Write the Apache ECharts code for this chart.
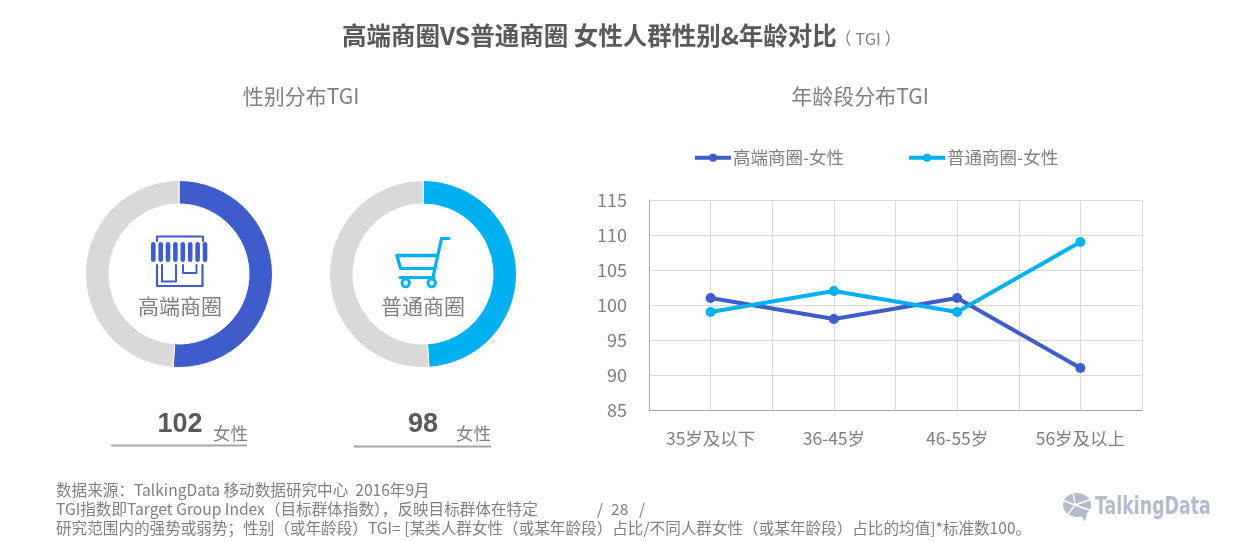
<!DOCTYPE html>
<html><head><meta charset="utf-8">
<style>html,body{margin:0;padding:0;background:#fff}#c{width:1239px;height:542px}</style>
<script src="https://cdn.jsdelivr.net/npm/echarts@6/dist/echarts.min.js"></script>
</head><body><div id="c"></div>
<script>
const ageCategories = ['35岁及以下','36-45岁','46-55岁','56岁及以上'];
const yTicks = {min:85,max:115,interval:5};
const seriesNames = ['高端商圈-女性','普通商圈-女性'];
const premiumAge = [101,98,101,91];
const normalAge = [99,102,99,109];
const premiumTGI = 102;
const normalTGI = 98;
const premiumName = '高端商圈';
const normalName = '普通商圈';
const gender = '女性';
const titleMain = '高端商圈VS普通商圈 女性人群性别&年龄对比';
const titleSub = '（ TGI ）';
const subLeft = '性别分布TGI';
const subRight = '年龄段分布TGI';
const notes = [
 '数据来源：TalkingData 移动数据研究中心  2016年9月',
 'TGI指数即Target Group Index（目标群体指数），反映目标群体在特定',
 '研究范围内的强势或弱势；性别（或年龄段）TGI= [某类人群女性（或某年龄段）占比/不同人群女性（或某年龄段）占比的均值]*标准数100。'
];
const BLUE='#3f5ccb', CYAN='#00b0f0', GRAY='#7f7f7f', RING='#d9d9d9';
const FONT='"Noto Sans CJK SC","Noto Sans",sans-serif';
const txt=(x,y,text,size,fill,extra,el)=>Object.assign({type:'text',x,y,silent:true,style:Object.assign({text,fontSize:size,fill,fontFamily:FONT,textVerticalAlign:'middle',verticalAlign:'middle'},extra||{})},el||{});
const pl=(points,stroke,w)=>({type:'polyline',silent:true,shape:{points},style:{stroke,lineWidth:w,fill:null,lineCap:'round',lineJoin:'round'}});
const ring=(center,val,color)=>({type:'pie',center,radius:[70,93.5],startAngle:90,silent:true,label:{show:false},labelLine:{show:false},
 itemStyle:{borderColor:'#fff',borderWidth:1},
 data:[{value:val,itemStyle:{color}},{value:200-val,itemStyle:{color:RING}}],animation:false});
const awning=[153.3,160.7,168,175.4,182.8,190.2,197.6,205].map(x=>({type:'rect',silent:true,shape:{x:x-2.3,y:242,width:4.6,height:20,r:2.3},style:{fill:BLUE}}));
const shop=[pl([[157,241],[157,236.5],[203,236.5],[203,241]],BLUE,2.2),...awning,
 pl([[157,265],[157,286],[202.5,286],[202.5,265]],BLUE,2.2),
 pl([[162,265],[162,281.5],[176,281.5],[176,265]],BLUE,2),
 pl([[183,265],[183,273],[196.5,273],[196.5,265]],BLUE,2)];
const cart=[pl([[449,238.5],[441.5,238.5],[433,277]],CYAN,3.2),
 pl([[397,255.5],[437,255.5]],CYAN,3.4),pl([[397,255.5],[400.5,268.5],[435,268.5]],CYAN,3.2),
 pl([[400,277.5],[434,277.5]],CYAN,3.2),
 {type:'circle',silent:true,shape:{cx:405.7,cy:283,r:3.8},style:{stroke:CYAN,lineWidth:2.8,fill:'#fff'}},
 {type:'circle',silent:true,shape:{cx:431.7,cy:283,r:3.8},style:{stroke:CYAN,lineWidth:2.8,fill:'#fff'}}];
const LOGO='#b4bbcc';
const logo=[{type:'ellipse',silent:true,shape:{cx:1077,cy:505,rx:14,ry:12},style:{fill:LOGO}},
 {type:'polygon',silent:true,shape:{points:[[1079,514],[1087,514],[1085,521]]},style:{fill:LOGO}},
 pl([[1075,505],[1073,492]],'#fff',1.4),pl([[1075,505],[1092,499]],'#fff',1.4),pl([[1075,505],[1062,500]],'#fff',1.4),
 pl([[1075,505],[1066,517]],'#fff',1.4),pl([[1075,505],[1092,511]],'#fff',1.4),
 txt(1095,507,'TalkingData',25,LOGO,{fontFamily:'"DejaVu Sans"',fontWeight:'bold'},{scaleX:0.695})];
const option={
 animation:false,backgroundColor:'#fff',
 title:[
  {text:titleMain,left:337,top:18,textStyle:{fontFamily:FONT,fontSize:24.5,fontWeight:'bold',color:'#595959'}},
  {text:titleSub,left:830,top:25,textStyle:{fontFamily:FONT,fontSize:16.5,fontWeight:'normal',color:GRAY}},
  {text:subLeft,left:296,top:81,textAlign:'center',textStyle:{fontFamily:FONT,fontSize:21,fontWeight:'normal',color:GRAY}},
  {text:subRight,left:855,top:81,textAlign:'center',textStyle:{fontFamily:FONT,fontSize:21,fontWeight:'normal',color:GRAY}}
 ],
 legend:{left:688,top:144,itemWidth:36,itemHeight:10,itemGap:63,data:seriesNames,lineStyle:{width:4},
  textStyle:{fontFamily:FONT,fontSize:17.5,color:GRAY,padding:[0,0,0,-3]}},
 grid:{left:649,top:200,width:493,height:210,containLabel:false},
 xAxis:[
  {type:'category',data:ageCategories,boundaryGap:true,axisTick:{show:false},
   axisLine:{lineStyle:{color:'#a6a6a6',width:1}},
   axisLabel:{fontFamily:FONT,fontSize:17.5,color:GRAY,margin:20,interval:0},
   splitLine:{show:true,interval:0,lineStyle:{color:'#d9d9d9',width:1}}},
  {type:'category',position:'bottom',data:['','','','','','','',''],boundaryGap:true,axisTick:{show:false},axisLabel:{show:false},
   axisLine:{show:false},splitLine:{show:true,interval:0,lineStyle:{color:'#d9d9d9',width:1}}}
 ],
 yAxis:{type:'value',min:yTicks.min,max:yTicks.max,interval:yTicks.interval,
  axisLine:{show:true,lineStyle:{color:'#a6a6a6',width:1}},axisTick:{show:false},
  axisLabel:{fontFamily:FONT,fontSize:18,color:GRAY,margin:22,padding:[0,0,3,0]},
  splitLine:{show:true,lineStyle:{color:'#d9d9d9',width:1}}},
 series:[
  ring([179,274],premiumTGI,BLUE),
  ring([423,274],normalTGI,CYAN),
  {type:'line',name:seriesNames[0],data:premiumAge,symbol:'circle',symbolSize:10,lineStyle:{color:BLUE,width:4},itemStyle:{color:BLUE},z:3},
  {type:'line',name:seriesNames[1],data:normalAge,symbol:'circle',symbolSize:10,lineStyle:{color:CYAN,width:4},itemStyle:{color:CYAN},z:4}
 ],
 graphic:[
  ...shop,...cart,...logo,
  txt(180,306,premiumName,21,GRAY,{textAlign:'center',align:'center'}),
  txt(423,306,normalName,21,GRAY,{textAlign:'center',align:'center'}),
  txt(180,425,String(premiumTGI),27,'#595959',{textAlign:'center',align:'center',fontFamily:'"Liberation Sans"',fontWeight:'bold'}),
  txt(423,425,String(normalTGI),27,'#595959',{textAlign:'center',align:'center',fontFamily:'"Liberation Sans"',fontWeight:'bold'}),
  txt(213,433,gender,17.5,GRAY),
  txt(456,433,gender,17.5,GRAY),
  {type:'line',silent:true,shape:{x1:111,y1:445.5,x2:247,y2:445.5},style:{stroke:'#a6a6a6',lineWidth:2}},
  {type:'line',silent:true,shape:{x1:354,y1:446.5,x2:491,y2:446.5},style:{stroke:'#a6a6a6',lineWidth:2}},
  txt(56,490,notes[0],15.6,GRAY),
  txt(56,509,notes[1],15.6,GRAY),
  txt(56,528,notes[2],15.6,GRAY),
  txt(597,509,'/',15.6,GRAY),
  txt(611,509,'28',15.6,GRAY),
  txt(639,509,'/',15.6,GRAY)
 ]
};
echarts.init(document.getElementById('c'),null,{renderer:'canvas'}).setOption(option);
</script></body></html>
